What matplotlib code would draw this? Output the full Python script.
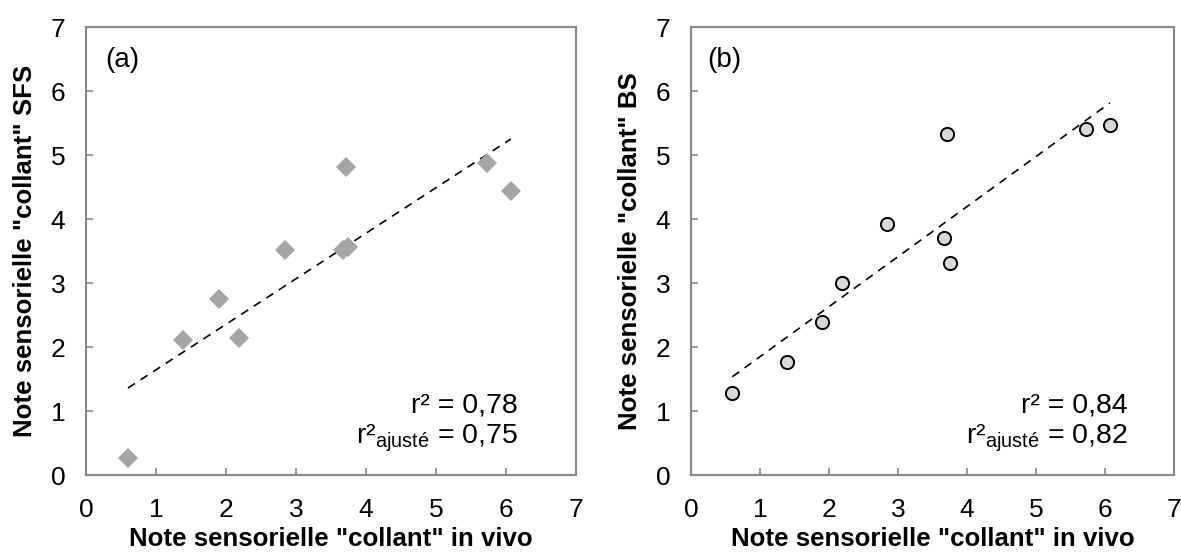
import numpy as np
import matplotlib
matplotlib.use('Agg')
import matplotlib.pyplot as plt

plt.rcParams['font.family'] = ['Liberation Sans', 'DejaVu Sans']
plt.rcParams['mathtext.fontset'] = 'custom'
plt.rcParams['mathtext.rm'] = 'Liberation Sans'

# note "collant" in vivo (same x for both panels)
in_vivo = [0.60, 1.39, 1.90, 2.19, 2.84, 3.67, 3.75, 3.71, 5.73, 6.07]
# note SFS (panel a)
sfs = [0.27, 2.11, 2.75, 2.15, 3.52, 3.52, 3.56, 4.82, 4.88, 4.44]
# note BS (panel b)
bs = [1.28, 1.77, 2.40, 3.01, 3.92, 3.71, 3.31, 5.33, 5.41, 5.47]

panels = ['(a)', '(b)']
ylabels = ['Note sensorielle "collant" SFS', 'Note sensorielle "collant" BS']
r2 = ['0,78', '0,84']
r2_adj = ['0,75', '0,82']

fig = plt.figure(figsize=(11.81, 5.56), dpi=100)
ax_a = fig.add_axes([0.0728, 0.1448, 0.4149, 0.8066])
ax_b = fig.add_axes([0.5851, 0.1448, 0.4090, 0.8066])

x = np.array(in_vivo)
text_right = [0.882, 0.905]
label_left = [0.039, 0.033]

for i, (ax, y) in enumerate([(ax_a, sfs), (ax_b, bs)]):
    y = np.array(y)
    if i == 0:
        ax.plot(x, y, linestyle='none', marker='D', markersize=10.2,
                color='#A5A5A5', markeredgewidth=0, zorder=3)
    else:
        ax.plot(x, y, linestyle='none', marker='o', markersize=9.5,
                markerfacecolor='#D9D9D9', markeredgecolor='black',
                markeredgewidth=1.4, zorder=3)

    # linear trend
    k, b = np.polyfit(x, y, 1)
    xx = np.array([x.min(), x.max()])
    ax.plot(xx, k * xx + b, color='black', linestyle=(0, (5, 4)), linewidth=1.2, zorder=2)

    ax.set_xlim(0, 7)
    ax.set_ylim(0, 7)
    ax.set_xticks(range(8))
    ax.set_yticks(range(8))
    ax.tick_params(direction='in', length=5, width=1.2, color='#888888',
                   labelsize=19, pad=16)
    ax.tick_params(axis='y', pad=15)
    for s in ax.spines.values():
        s.set_color('#888888')
        s.set_linewidth(1.5)

    ax.set_xlabel('Note sensorielle "collant" in vivo', fontsize=18.6, fontweight='bold', labelpad=4)
    ax.set_ylabel(ylabels[i], fontsize=18.6, fontweight='bold', labelpad=10)

    ax.text(label_left[i], 0.955, panels[i], transform=ax.transAxes, fontsize=20, va='top', ha='left')
    ax.text(text_right[i], 0.157, 'r² = ' + r2[i], transform=ax.transAxes, fontsize=20.5,
            ha='right', va='center')
    ax.text(text_right[i], 0.084, r'r²$_{\mathregular{ajusté}}$ = ' + r2_adj[i], transform=ax.transAxes,
            fontsize=20.5, ha='right', va='center')

fig.savefig('out.png', dpi=100)
